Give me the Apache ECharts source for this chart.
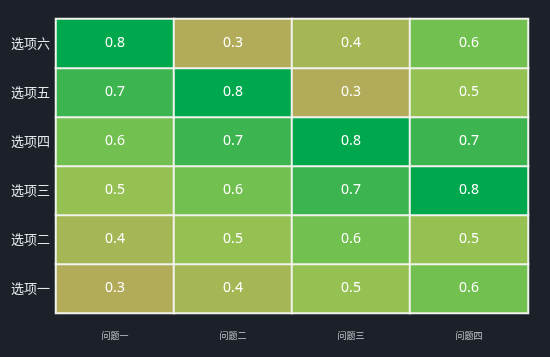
<!DOCTYPE html>
<html><head><meta charset="utf-8">
<script src="https://cdn.jsdelivr.net/npm/echarts@6/dist/echarts.min.js"></script>
<style>html,body{margin:0;padding:0;background:#1b2029;}#c{width:550px;height:357px;}</style>
</head><body><div id="c"></div>
<script>
var questions = ['问题一', '问题二', '问题三', '问题四'];
var options = ['选项一', '选项二', '选项三', '选项四', '选项五', '选项六'];
// values per option row, columns = questions
var row1 = [0.3, 0.4, 0.5, 0.6];
var row2 = [0.4, 0.5, 0.6, 0.5];
var row3 = [0.5, 0.6, 0.7, 0.8];
var row4 = [0.6, 0.7, 0.8, 0.7];
var row5 = [0.7, 0.8, 0.3, 0.5];
var row6 = [0.8, 0.3, 0.4, 0.6];
var rows = [row1, row2, row3, row4, row5, row6];
var data = [];
rows.forEach(function (r, yi) { r.forEach(function (v, xi) { data.push([xi, yi, v]); }); });
var chart = echarts.init(document.getElementById('c'));
chart.setOption({
  backgroundColor: '#1b2029',
  grid: { left: 56, right: 22, top: 19, bottom: 44, show: true, borderColor: '#a0a4ab', borderWidth: 1 },
  xAxis: { type: 'category', data: questions, axisLine: { show: false }, axisTick: { show: false },
    axisLabel: { color: '#c8cbd0', fontSize: 9, margin: 18, fontFamily: 'Noto Sans CJK SC' }, splitArea: { show: false } },
  yAxis: { type: 'category', data: options, axisLine: { show: true, lineStyle: { color: '#b8bbc0' } }, axisTick: { show: false },
    axisLabel: { color: '#e6e8ea', fontSize: 13, margin: 6, fontFamily: 'Noto Sans CJK SC' } },
  visualMap: { show: false, min: 0.3, max: 0.8, calculable: false,
    inRange: { color: ['#b2ac5a', '#a4b755', '#95c153', '#72c04f', '#3cb44f', '#00a84d'] } },
  series: [{ type: 'heatmap', data: data,
    label: { show: true, color: '#ffffff', fontSize: 14, fontFamily: 'Noto Sans' },
    itemStyle: { borderColor: '#f2f2ee', borderWidth: 2 },
    emphasis: { disabled: true } }]
});
</script></body></html>
